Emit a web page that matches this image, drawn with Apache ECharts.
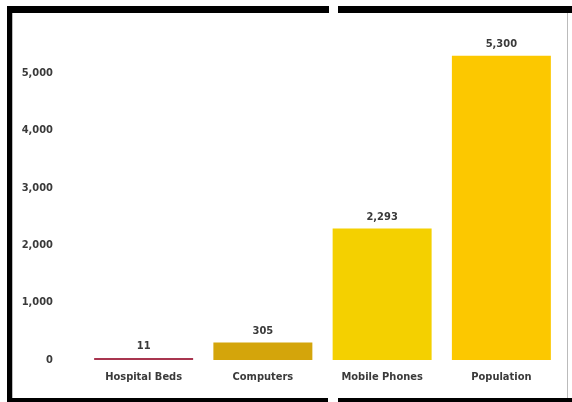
<!DOCTYPE html>
<html>
<head>
<meta charset="utf-8">
<script src="https://cdn.jsdelivr.net/npm/echarts@6/dist/echarts.min.js"></script>
<style>
html,body{margin:0;padding:0;background:#fff;}
#c{width:572px;height:402px;}
</style>
</head>
<body>
<div id="c"></div>
<script>
var categories = ['Hospital Beds', 'Computers', 'Mobile Phones', 'Population'];
var values = [11, 305, 2293, 5300];
var barColors = ['#a8354f', '#d4a50b', '#f4d000', '#fcc800'];
var yTicks = [0, 1000, 2000, 3000, 4000, 5000];

var FONT = "'Liberation Sans Narrow', 'DejaVu Sans Condensed', 'Arial Narrow', sans-serif";
var chart = echarts.init(document.getElementById('c'), null, {renderer: 'canvas'});
var BLACK = '#000';
var TXT = '#3a3a3a';
chart.setOption({
  animation: false,
  backgroundColor: '#fff',
  grid: {left: 84, right: 11, top: 15.6, bottom: 42, containLabel: false},
  xAxis: {
    type: 'category',
    data: categories,
    axisLine: {show: false},
    axisTick: {show: false},
    axisLabel: {color: TXT, fontFamily: FONT, fontSize: 11, fontWeight: 'bold', margin: 12}
  },
  yAxis: {
    type: 'value',
    min: 0,
    max: 6000,
    interval: 1000,
    splitLine: {show: false},
    axisLine: {show: false},
    axisTick: {show: false},
    axisLabel: {
      color: TXT, fontFamily: FONT, fontSize: 11, fontWeight: 'bold', margin: 31,
      showMaxLabel: false,
      formatter: function (v) { return yTicks.indexOf(v) >= 0 ? v.toLocaleString('en-US') : ''; }
    }
  },
  series: [{
    type: 'bar',
    barWidth: '83%',
    barMinHeight: 2,
    data: values.map(function (v, i) { return {value: v, itemStyle: {color: barColors[i]}}; }),
    label: {
      show: true, position: 'top', distance: 6,
      color: TXT, fontFamily: FONT, fontSize: 11, fontWeight: 'bold',
      formatter: function (p) { return p.value.toLocaleString('en-US'); }
    }
  }],
  graphic: [
    {type: 'rect', shape: {x: 7, y: 6, width: 322, height: 7}, style: {fill: BLACK}},
    {type: 'rect', shape: {x: 338, y: 6, width: 234, height: 7}, style: {fill: BLACK}},
    {type: 'rect', shape: {x: 7, y: 6, width: 5, height: 396}, style: {fill: BLACK}},
    {type: 'rect', shape: {x: 7, y: 398, width: 321, height: 4}, style: {fill: BLACK}},
    {type: 'rect', shape: {x: 338, y: 398, width: 234, height: 4}, style: {fill: BLACK}},
    {type: 'rect', shape: {x: 12, y: 13, width: 1, height: 385}, style: {fill: '#bbb'}},
    {type: 'rect', shape: {x: 567, y: 13, width: 1, height: 385}, style: {fill: '#bbb'}}
  ]
});
</script>
</body>
</html>
